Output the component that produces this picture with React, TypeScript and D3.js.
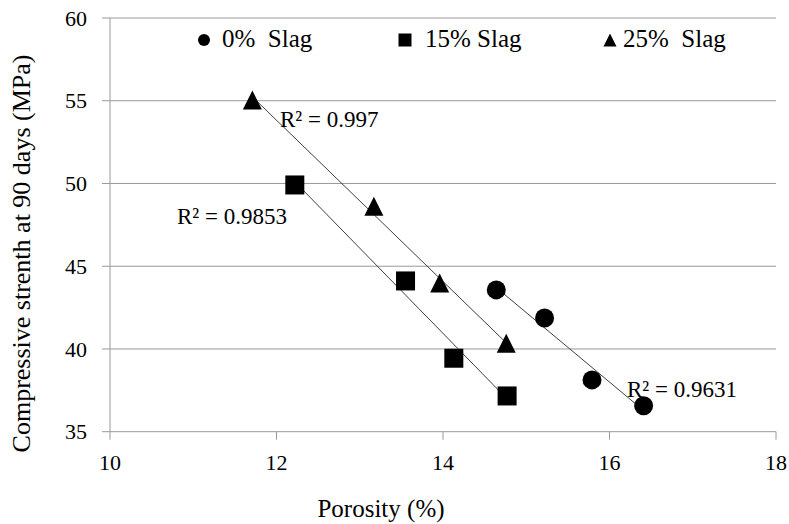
import React from "react";
import * as d3 from "d3";

const xTicks = [10, 12, 14, 16, 18];
const yTicks = [35, 40, 45, 50, 55, 60];

const slag0X = [14.64, 15.22, 15.79, 16.41];
const slag0Y = [43.57, 41.87, 38.13, 36.57];
const slag15X = [12.22, 13.55, 14.13, 14.77];
const slag15Y = [49.91, 44.11, 39.44, 37.16];
const slag25X = [11.71, 13.17, 13.96, 14.76];
const slag25Y = [55.05, 48.62, 43.99, 40.34];

const seriesNames = ["0%  Slag", "15% Slag", "25%  Slag"];
const r2Labels = ["R\u00B2 = 0.9631", "R\u00B2 = 0.9853", "R\u00B2 = 0.997"];

const W = 789;
const H = 524;
const FONT = "Liberation Serif, Tinos, DejaVu Serif, serif";

function regress(xs: number[], ys: number[]) {
  const mx = d3.mean(xs) as number;
  const my = d3.mean(ys) as number;
  let sxy = 0;
  let sxx = 0;
  xs.forEach((x, i) => {
    sxy += (x - mx) * (ys[i] - my);
    sxx += (x - mx) * (x - mx);
  });
  const b = sxy / sxx;
  const a = my - b * mx;
  return (x: number) => a + b * x;
}

const txt = (size: number): React.CSSProperties => ({
  fontFamily: FONT,
  fontSize: `${size}px`,
  whiteSpace: "pre",
});

export default function App() {
  const x = d3.scaleLinear().domain([10, 18]).range([110, 776]);
  const y = d3.scaleLinear().domain([35, 60]).range([431.7, 18]);

  const series = [
    { xs: slag0X, ys: slag0Y, shape: "circle" },
    { xs: slag15X, ys: slag15Y, shape: "square" },
    { xs: slag25X, ys: slag25Y, shape: "triangle" },
  ];

  const marker = (shape: string, cx: number, cy: number, s: number, key: string) => {
    if (shape === "circle") return <circle key={key} cx={cx} cy={cy} r={s / 2} fill="#000" />;
    if (shape === "square")
      return <rect key={key} x={cx - s / 2} y={cy - s / 2} width={s} height={s} fill="#000" />;
    const h = s;
    const w = s;
    return (
      <path
        key={key}
        d={`M${cx},${cy - h / 2}L${cx + w / 2},${cy + h / 2}L${cx - w / 2},${cy + h / 2}Z`}
        fill="#000"
      />
    );
  };

  const line = d3.line<[number, number]>().x((d) => x(d[0])).y((d) => y(d[1]));

  const r2Pos = [
    { x: 627, y: 397 },
    { x: 177, y: 224 },
    { x: 280, y: 127 },
  ];

  const legendItems = [
    { mx: 204, tx: 222, shape: "circle" },
    { mx: 405, tx: 425, shape: "square" },
    { mx: 610, tx: 623, shape: "triangle" },
  ];

  return (
    <svg width={W} height={H} style={{ position: "fixed", left: 0, top: 0, background: "#fff" }}>
      <rect x={0} y={0} width={W} height={H} fill="#fff" />
      {yTicks.map((t) => (
        <line key={"g" + t} x1={x(10)} x2={x(18)} y1={y(t)} y2={y(t)} stroke="#999" strokeWidth={1} />
      ))}
      <line x1={x(10)} x2={x(10)} y1={y(60)} y2={y(35)} stroke="#999" strokeWidth={1} />
      {yTicks.map((t) => (
        <line key={"yt" + t} x1={x(10) - 8} x2={x(10)} y1={y(t)} y2={y(t)} stroke="#999" strokeWidth={1} />
      ))}
      {xTicks.map((t) => (
        <line key={"xt" + t} x1={x(t)} x2={x(t)} y1={y(35)} y2={y(35) + 8} stroke="#999" strokeWidth={1} />
      ))}
      {yTicks.map((t) => (
        <text key={"yl" + t} x={87} y={y(t)} dy="0.35em" textAnchor="end" style={txt(22)} fill="#000">
          {t}
        </text>
      ))}
      {xTicks.map((t) => (
        <text key={"xl" + t} x={x(t)} y={470} textAnchor="middle" style={txt(22)} fill="#000">
          {t}
        </text>
      ))}
      <text x={381} y={517} textAnchor="middle" style={txt(25)} fill="#000">
        Porosity (%)
      </text>
      <text transform={`translate(30,253.5) rotate(-90)`} textAnchor="middle" style={txt(26)} fill="#000">
        Compressive strenth at 90 days (MPa)
      </text>
      {series.map((s, i) => {
        const f = regress(s.xs, s.ys);
        const x0 = d3.min(s.xs) as number;
        const x1 = d3.max(s.xs) as number;
        return (
          <path
            key={"tl" + i}
            d={line([
              [x0, f(x0)],
              [x1, f(x1)],
            ]) as string}
            stroke="#404040"
            strokeWidth={1}
            fill="none"
          />
        );
      })}
      {series.map((s, i) => (
        <g key={"s" + i}>
          {s.xs.map((v, j) => marker(s.shape, x(v), y(s.ys[j]), 19, `m${i}-${j}`))}
        </g>
      ))}
      {r2Labels.map((l, i) => (
        <text key={"r" + i} x={r2Pos[i].x} y={r2Pos[i].y} style={txt(23)} fill="#000">
          {l}
        </text>
      ))}
      {legendItems.map((li, i) => (
        <g key={"lg" + i}>
          {marker(li.shape, li.mx, 40, li.shape === "circle" ? 12 : 13, "lm" + i)}
          <text x={li.tx} y={47} style={txt(25)} fill="#000">
            {seriesNames[i]}
          </text>
        </g>
      ))}
    </svg>
  );
}
